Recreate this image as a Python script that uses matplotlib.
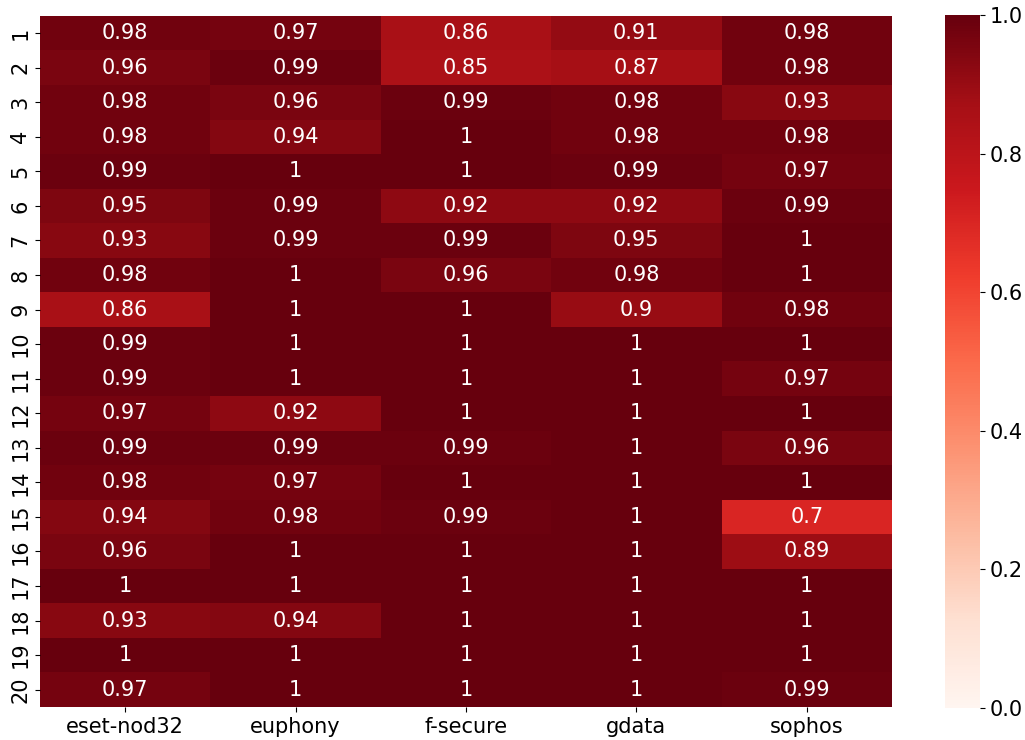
import numpy as np
import matplotlib
matplotlib.use("Agg")
import matplotlib.pyplot as plt
import seaborn as sns

engines = ["eset-nod32", "euphony", "f-secure", "gdata", "sophos"]
rows = [str(i) for i in range(1, 21)]

eset_nod32 = [0.98, 0.96, 0.98, 0.98, 0.99, 0.95, 0.93, 0.98, 0.86, 0.99,
              0.99, 0.97, 0.99, 0.98, 0.94, 0.96, 1.00, 0.93, 1.00, 0.97]
euphony = [0.97, 0.99, 0.96, 0.94, 1.00, 0.99, 0.99, 1.00, 1.00, 1.00,
           1.00, 0.92, 0.99, 0.97, 0.98, 1.00, 1.00, 0.94, 1.00, 1.00]
f_secure = [0.86, 0.85, 0.99, 1.00, 1.00, 0.92, 0.99, 0.96, 1.00, 1.00,
            1.00, 1.00, 0.99, 1.00, 0.99, 1.00, 1.00, 1.00, 1.00, 1.00]
gdata = [0.91, 0.87, 0.98, 0.98, 0.99, 0.92, 0.95, 0.98, 0.90, 1.00,
         1.00, 1.00, 1.00, 1.00, 1.00, 1.00, 1.00, 1.00, 1.00, 1.00]
sophos = [0.98, 0.98, 0.93, 0.98, 0.97, 0.99, 1.00, 1.00, 0.98, 1.00,
          0.97, 1.00, 0.96, 1.00, 0.70, 0.89, 1.00, 1.00, 1.00, 0.99]

data = np.column_stack([eset_nod32, euphony, f_secure, gdata, sophos])

fig = plt.figure(figsize=(10.25, 7.4), dpi=100)
ax = fig.add_axes([0.039, 0.0446, 0.8312, 0.934])
cax = fig.add_axes([0.922, 0.0432, 0.0341, 0.9365])

sns.heatmap(data, ax=ax, cbar_ax=cax, cmap="Reds", vmin=0, vmax=1,
            annot=True, fmt=".2g", annot_kws={"fontsize": 15},
            xticklabels=engines, yticklabels=rows)

ax.tick_params(axis="both", labelsize=15)
plt.setp(ax.get_yticklabels(), rotation=90, va="center")
plt.setp(ax.get_xticklabels(), rotation=0)
cax.tick_params(labelsize=15)
cax.set_yticks([0.0, 0.2, 0.4, 0.6, 0.8, 1.0])
cax.set_yticklabels(["0.0", "0.2", "0.4", "0.6", "0.8", "1.0"])

fig.savefig("out.png", dpi=100)
